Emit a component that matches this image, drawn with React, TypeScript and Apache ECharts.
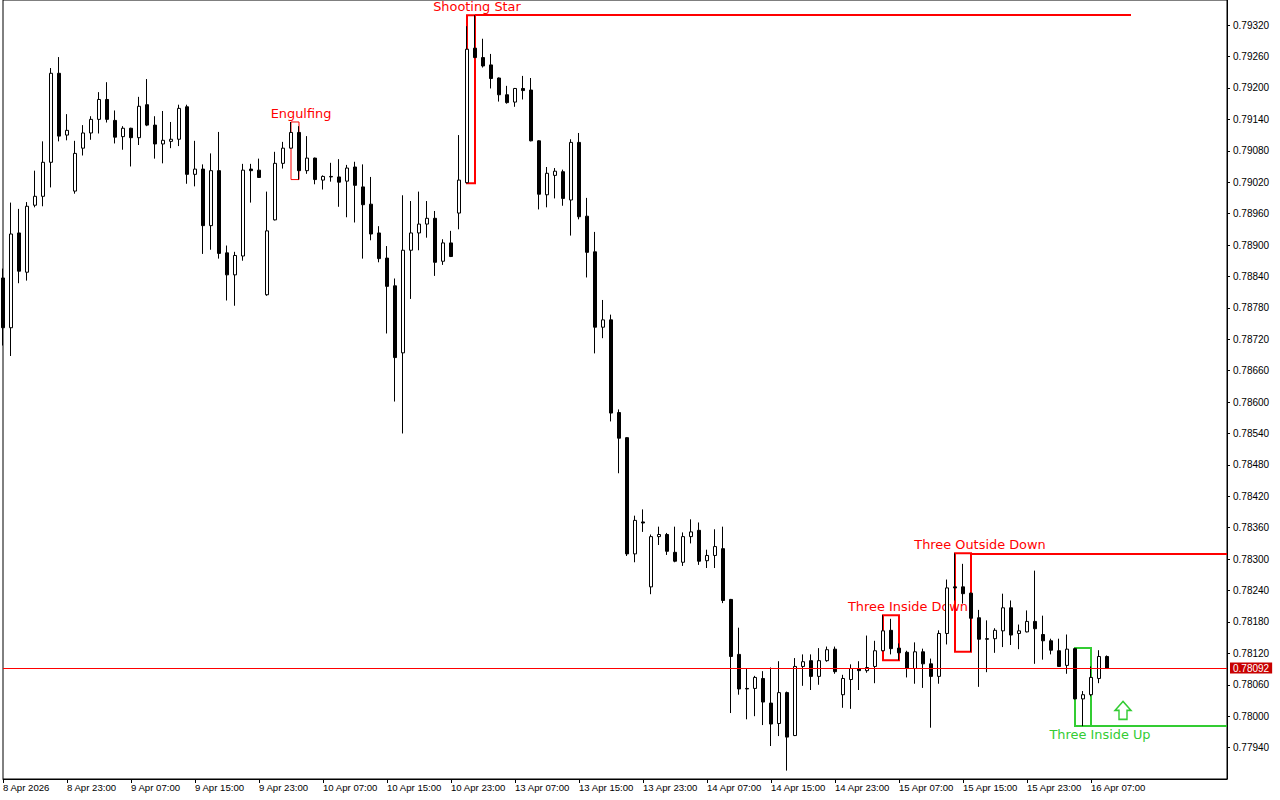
import React, { useEffect, useRef } from "react";
import * as echarts from "echarts";

// ---- Data (H1 candles) ----
const startUTC = Date.UTC(2026, 3, 8, 15); // 8 Apr 2026 15:00, first bar
const slotCount = 154; // bars + empty right-hand shift area
const monthNames = ["Jan", "Feb", "Mar", "Apr", "May", "Jun", "Jul", "Aug", "Sep", "Oct", "Nov", "Dec"];

const openV = [
  0.78837, 0.78742, 0.78923, 0.78848, 0.78976, 0.78993, 0.79058, 0.79228, 0.7911, 0.79003,
  0.79085, 0.79114, 0.7914, 0.79178, 0.79138, 0.79107, 0.79123, 0.79105, 0.79168, 0.79129,
  0.79093, 0.79098, 0.79102, 0.79164, 0.79035, 0.79045, 0.78937, 0.79042, 0.78885, 0.78843,
  0.78879, 0.79045, 0.79043, 0.78805, 0.78948, 0.79056, 0.79085, 0.79115, 0.79042, 0.79066,
  0.79024, 0.7903, 0.7903, 0.79022, 0.79049, 0.79011, 0.78978, 0.78923, 0.78875, 0.78822,
  0.78694, 0.7889, 0.78923, 0.7894, 0.78951, 0.78869, 0.78904, 0.78961, 0.79019, 0.79276,
  0.79258, 0.79244, 0.79219, 0.79187, 0.79173, 0.79199, 0.79196, 0.79099, 0.78996, 0.79033,
  0.7904, 0.78986, 0.79096, 0.78955, 0.78887, 0.78743, 0.78757, 0.7858, 0.78532, 0.7831,
  0.78371, 0.78247, 0.78343, 0.78347, 0.78313, 0.78294, 0.78343, 0.78355, 0.78297, 0.78307,
  0.7832, 0.78223, 0.78118, 0.78053, 0.78053, 0.78072, 0.78025, 0.77986, 0.78045, 0.77963,
  0.78095, 0.78106, 0.78076, 0.78106, 0.78128, 0.78041, 0.7807, 0.78091, 0.78087, 0.78095,
  0.78125, 0.78164, 0.7813, 0.78122, 0.78091, 0.78123, 0.781, 0.78076, 0.78158, 0.78247,
  0.78247, 0.78235, 0.78188, 0.78148, 0.78148, 0.78163, 0.78207, 0.78158, 0.78161, 0.78181,
  0.78156, 0.78144, 0.78125, 0.78097, 0.78129, 0.78033, 0.78041, 0.78072, 0.78114,
];

const closeV = [
  0.78742, 0.78921, 0.7885, 0.78974, 0.78993, 0.79058, 0.79228, 0.79108, 0.79119, 0.79075,
  0.79114, 0.7914, 0.79178, 0.7914, 0.79106, 0.79123, 0.79105, 0.79165, 0.79129, 0.79093,
  0.791, 0.79102, 0.79161, 0.79035, 0.79045, 0.78937, 0.79042, 0.78884, 0.78843, 0.7888,
  0.79043, 0.79042, 0.79029, 0.78927, 0.79056, 0.79085, 0.79115, 0.79042, 0.79066, 0.79025,
  0.79031, 0.79031, 0.7902, 0.79047, 0.79014, 0.78977, 0.78921, 0.78874, 0.78821, 0.78685,
  0.7889, 0.78923, 0.7894, 0.78951, 0.78867, 0.78904, 0.78878, 0.79024, 0.79274, 0.79258,
  0.79242, 0.79218, 0.79187, 0.79172, 0.79199, 0.79195, 0.79099, 0.78997, 0.79037, 0.79041,
  0.78989, 0.79096, 0.78954, 0.78886, 0.78743, 0.78757, 0.78579, 0.78531, 0.7831, 0.78374,
  0.78369, 0.78343, 0.78347, 0.78315, 0.78296, 0.78343, 0.78352, 0.78296, 0.78307, 0.78324,
  0.78221, 0.78114, 0.78052, 0.78052, 0.78074, 0.78027, 0.77985, 0.78045, 0.7796, 0.78095,
  0.78104, 0.78076, 0.78106, 0.78127, 0.78085, 0.78072, 0.78091, 0.78087, 0.78093, 0.78125,
  0.78163, 0.78129, 0.78121, 0.78091, 0.78123, 0.781, 0.78076, 0.78158, 0.78245, 0.78245,
  0.78234, 0.78187, 0.78147, 0.78147, 0.78164, 0.78207, 0.78155, 0.78163, 0.78181, 0.78167,
  0.78144, 0.78126, 0.78095, 0.78128, 0.78033, 0.78041, 0.78074, 0.78114, 0.78092,
];

const lowV = [
  0.78708, 0.78688, 0.78827, 0.78832, 0.78972, 0.78974, 0.7901, 0.79098, 0.791, 0.78998,
  0.79071, 0.79101, 0.79113, 0.79134, 0.79094, 0.79082, 0.7905, 0.79091, 0.79127, 0.79065,
  0.79056, 0.79085, 0.79089, 0.79017, 0.79012, 0.78883, 0.78891, 0.78874, 0.78794, 0.78784,
  0.7887, 0.78981, 0.79028, 0.78803, 0.78947, 0.79046, 0.79084, 0.79025, 0.79036, 0.79016,
  0.79006, 0.79021, 0.78973, 0.78953, 0.78943, 0.78874, 0.78909, 0.78867, 0.78731, 0.78601,
  0.7854, 0.78797, 0.7889, 0.78914, 0.78841, 0.78862, 0.78877, 0.7893, 0.79018, 0.79257,
  0.79239, 0.79199, 0.79174, 0.7917, 0.79164, 0.79178, 0.79098, 0.78968, 0.78972, 0.78989,
  0.78975, 0.78918, 0.78949, 0.78838, 0.78693, 0.78722, 0.78563, 0.78464, 0.78306, 0.78294,
  0.78352, 0.78233, 0.78327, 0.78308, 0.78294, 0.78287, 0.7833, 0.78289, 0.78283, 0.78283,
  0.78216, 0.78006, 0.78041, 0.77994, 0.78, 0.77983, 0.77943, 0.77962, 0.77896, 0.77962,
  0.78058, 0.7805, 0.7806, 0.78104, 0.78081, 0.78016, 0.78014, 0.7805, 0.78083, 0.78063,
  0.78124, 0.78118, 0.78107, 0.78074, 0.78062, 0.78054, 0.77978, 0.78062, 0.78137, 0.78221,
  0.78215, 0.78123, 0.78056, 0.78084, 0.78121, 0.78132, 0.78136, 0.78128, 0.7816, 0.781,
  0.78108, 0.78118, 0.78094, 0.78081, 0.78032, 0.77981, 0.78038, 0.78063, 0.78091,
];

const highV = [
  0.78855, 0.78981, 0.78969, 0.78982, 0.79042, 0.79098, 0.79238, 0.79259, 0.7915, 0.79099,
  0.79129, 0.79146, 0.79192, 0.79211, 0.79157, 0.79127, 0.79124, 0.79183, 0.79217, 0.79146,
  0.79156, 0.79135, 0.79168, 0.79168, 0.79099, 0.79054, 0.79075, 0.79116, 0.78899, 0.78887,
  0.79055, 0.79055, 0.79065, 0.79002, 0.79078, 0.79097, 0.79135, 0.79127, 0.79108, 0.79067,
  0.79033, 0.79057, 0.79064, 0.79053, 0.79059, 0.79054, 0.7903, 0.78936, 0.78898, 0.78836,
  0.78995, 0.78984, 0.79002, 0.78984, 0.78965, 0.78911, 0.78927, 0.7911, 0.79318, 0.79339,
  0.79294, 0.79265, 0.7922, 0.79204, 0.792, 0.79223, 0.79219, 0.791, 0.79049, 0.79047,
  0.79044, 0.79102, 0.79114, 0.7899, 0.78925, 0.78795, 0.78767, 0.78586, 0.78533, 0.78383,
  0.78395, 0.78347, 0.78362, 0.7835, 0.78362, 0.78351, 0.78376, 0.7837, 0.78318, 0.78357,
  0.78362, 0.78224, 0.78169, 0.7809, 0.78077, 0.78086, 0.78093, 0.78105, 0.78047, 0.78111,
  0.78118, 0.78118, 0.7813, 0.78133, 0.78133, 0.78079, 0.78099, 0.78105, 0.78154, 0.78144,
  0.78193, 0.78186, 0.78139, 0.78125, 0.78141, 0.78129, 0.7811, 0.78164, 0.78261, 0.78311,
  0.78291, 0.78236, 0.78203, 0.78183, 0.78168, 0.78234, 0.78221, 0.78175, 0.78202, 0.78278,
  0.78192, 0.78148, 0.78148, 0.78156, 0.7813, 0.78048, 0.78095, 0.78126, 0.78116,
];

// Price axis
const yMin = 0.7788;
const yMax = 0.79368;
const yStep = 0.0006;

// Candlestick patterns: first bar, last bar
const patterns = [
  { name: "Engulfing", from: 36, to: 37, color: "#ff0000", width: 1, below: false, dx: 6, extendTo: null as number | null, extendAt: "" },
  { name: "Shooting Star", from: 58, to: 59, color: "#ff0000", width: 2, below: false, dx: 6, extendTo: 141, extendAt: "high" },
  { name: "Three Inside Down", from: 110, to: 112, color: "#ff0000", width: 2, below: false, dx: 17, extendTo: null as number | null, extendAt: "" },
  { name: "Three Outside Down", from: 119, to: 121, color: "#ff0000", width: 2, below: false, dx: 17, extendTo: 153, extendAt: "high" },
  { name: "Three Inside Up", from: 134, to: 136, color: "#33cc33", width: 2, below: true, dx: 17, extendTo: 153, extendAt: "low" },
];
const arrowUp = { index: 140, price: 0.78011 };

function buildCategories(): string[] {
  const out: string[] = [];
  let t = startUTC;
  while (out.length < slotCount) {
    const d = new Date(t);
    const wd = d.getUTCDay();
    if (wd !== 0 && wd !== 6) {
      const hh = String(d.getUTCHours()).padStart(2, "0");
      out.push(`${d.getUTCDate()} ${monthNames[d.getUTCMonth()]} ${hh}:00`);
    }
    t += 3600 * 1000;
  }
  return out;
}

const FONT = "Liberation Sans";
const LABEL_FONT = "DejaVu Sans";

export default function App() {
  const ref = useRef<HTMLDivElement>(null);

  useEffect(() => {
    if (!ref.current) return;
    const chart = echarts.init(ref.current, null, { renderer: "svg" });
    const categories = buildCategories();
    const candles = openV.map((o, i) => [o, closeV[i], lowV[i], highV[i]]);
    const last = closeV[closeV.length - 1];
    const lastLabelIdx = openV.length - 3;
    const showIdx = (i: number) => i % 8 === 0 && i <= lastLabelIdx;

    const areaData: any[] = [];
    const lineData: any[] = [
      {
        yAxis: last,
        lineStyle: { color: "#ff0000", width: 1, type: "solid" },
        label: {
          show: true,
          position: "end",
          distance: 3,
          formatter: last.toFixed(5),
          backgroundColor: "#c80000",
          color: "#ffffff",
          padding: [1, 3, 0, 3],
          fontSize: 10,
          fontFamily: FONT,
        },
      },
    ];
    patterns.forEach((p) => {
      const hi = Math.max(...highV.slice(p.from, p.to + 1));
      const lo = Math.min(...lowV.slice(p.from, p.to + 1));
      areaData.push([
        {
          name: p.name,
          coord: [p.from, hi],
          itemStyle: { color: "rgba(0,0,0,0)", borderColor: p.color, borderWidth: p.width },
          label: {
            show: true,
            position: p.below ? "bottom" : "top",
            distance: 1,
            offset: [p.dx, 0],
            formatter: p.name,
            color: p.color,
            fontSize: 12.9,
            fontFamily: LABEL_FONT,
          },
        },
        { coord: [p.to, lo] },
      ]);
      if (p.extendTo !== null) {
        const lvl = p.extendAt === "high" ? hi : lo;
        lineData.push([
          {
            coord: [p.to, lvl],
            lineStyle: { color: p.color, width: p.width, type: "solid" },
            label: { show: false },
          },
          { coord: [p.extendTo, lvl] },
        ]);
      }
    });

    const option: any = {
      animation: false,
      backgroundColor: "#ffffff",
      textStyle: { fontFamily: FONT },
      grid: {
        left: 2,
        right: 53,
        top: -1,
        bottom: 21,
        show: true,
        borderColor: "#000000",
        borderWidth: 1,
        backgroundColor: "#ffffff",
      },
      xAxis: {
        type: "category",
        data: categories,
        boundaryGap: false,
        axisLine: { show: true, lineStyle: { color: "#000000", width: 1 } },
        axisTick: { show: true, length: 4, interval: (i: number) => showIdx(i), lineStyle: { color: "#000000" } },
        axisLabel: {
          show: true,
          interval: (i: number) => showIdx(i),
          formatter: (v: string, i: number) => (i === 0 ? `8 Apr 2026` : v),
          align: "left",
          margin: 3,
          color: "#000000",
          fontSize: 9.6,
          fontFamily: FONT,
        },
        splitLine: { show: false },
      },
      yAxis: {
        type: "value",
        position: "right",
        min: yMin,
        max: yMax,
        interval: yStep,
        scale: true,
        axisLine: { show: true, lineStyle: { color: "#000000", width: 1 } },
        axisTick: { show: true, length: 3, lineStyle: { color: "#000000" } },
        axisLabel: {
          show: true,
          showMinLabel: false,
          showMaxLabel: false,
          formatter: (v: number) => v.toFixed(5),
          margin: 6,
          color: "#000000",
          fontSize: 10,
          fontFamily: FONT,
        },
        splitLine: { show: false },
      },
      series: [
        {
          type: "candlestick",
          data: candles,
          barWidth: 4,
          itemStyle: {
            color: "#ffffff",
            color0: "#000000",
            borderColor: "#000000",
            borderColor0: "#000000",
            borderColorDoji: "#000000",
            borderWidth: 1,
          },
          markArea: { silent: true, data: areaData },
          markLine: {
            silent: true,
            symbol: ["none", "none"],
            precision: 5,
            label: { show: false },
            data: lineData,
          },
          markPoint: {
            silent: true,
            data: [
              {
                coord: [arrowUp.index, arrowUp.price],
                symbol: "path://M8,0 L16,9 L12,9 L12,18 L4,18 L4,9 L0,9 Z",
                symbolSize: [16, 18],
                itemStyle: { color: "#ffffff", borderColor: "#33cc33", borderWidth: 1.5 },
                label: { show: false },
              },
            ],
          },
        },
      ],
    };
    chart.setOption(option);
    return () => chart.dispose();
  }, []);

  return (
    <div
      ref={ref}
      style={{ position: "fixed", left: 0, top: 0, width: 1280, height: 800, background: "#ffffff" }}
    />
  );
}
